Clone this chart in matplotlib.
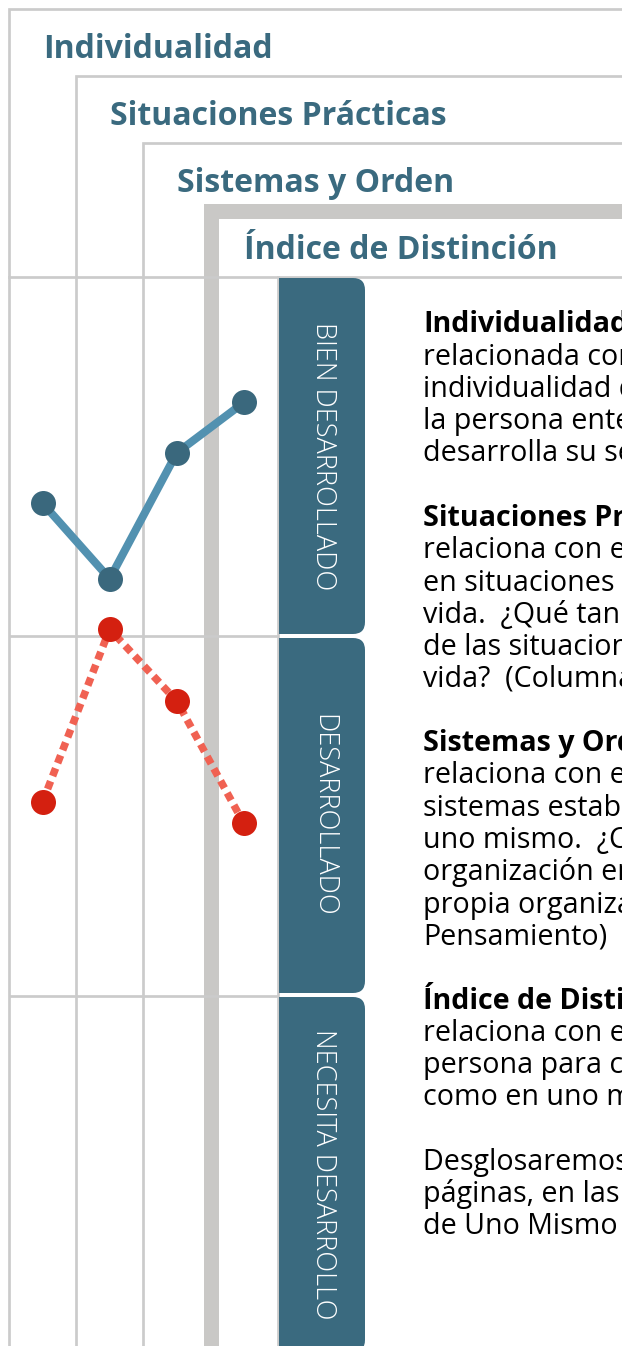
import matplotlib
matplotlib.use("Agg")
import matplotlib.pyplot as plt
from matplotlib.patches import FancyBboxPatch, Rectangle

# --- data ---
categories = ["Individualidad", "Situaciones Prácticas", "Sistemas y Orden", "Índice de Distinción"]
serie_azul = [23.7, 21.6, 25.1, 26.5]
serie_roja = [15.4, 20.2, 18.2, 14.8]
band_edges = [10, 20]
band_labels = ["BIEN DESARROLLADO", "DESARROLLADO", "NECESITA DESARROLLO"]

body = [
    ("Individualidad", True),
    ("relacionada con la capacidad de apreciar la", False),
    ("individualidad de cada persona, el valor de", False),
    ("la persona entera, y la forma en que cada uno", False),
    ("desarrolla su sentido de sí mismo. (Columna", False),
    ("", False),
    ("Situaciones Prácticas", True),
    ("relaciona con el juicio práctico de la persona", False),
    ("en situaciones prácticas y concretas de la", False),
    ("vida.  ¿Qué tan bien percibe la persona el valor", False),
    ("de las situaciones prácticas de la", False),
    ("vida?  (Columna de Pensamiento)", False),
    ("", False),
    ("Sistemas y Orden", True),
    ("relaciona con el juicio sobre las normas y", False),
    ("sistemas establecidos, tanto en el mundo como en", False),
    ("uno mismo.  ¿Cuánto valora la persona la", False),
    ("organización en el mundo y su", False),
    ("propia organización? (Columna de", False),
    ("Pensamiento)", False),
    ("", False),
    ("Índice de Distinción", True),
    ("relaciona con el grado de claridad de la", False),
    ("persona para captar valores, tanto en el mundo", False),
    ("como en uno mismo.", False),
    ("", False),
    ("Desglosaremos estas dimensiones en las siguientes", False),
    ("páginas, en las secciones del Mundo y", False),
    ("de Uno Mismo", False),
]

W, H = 622, 1346
TEAL = "#3a6a7f"
GREY = "#cbcbcb"
GREY_THICK = "#c9c8c6"
px = 72 / 100  # points per pixel

plt.rcParams["font.family"] = ["Open Sans", "DejaVu Sans"]
fig = plt.figure(figsize=(W / 100, H / 100), dpi=100)
bg = fig.add_axes([0, 0, 1, 1])
bg.set_xlim(0, W)
bg.set_ylim(H, 0)
bg.axis("off")

# nested frames with headings
lefts = [9, 76, 143, 210.5]
tops = [9, 76, 143, 210.5]
widths = [2.7, 2.7, 2.7, 15]
title_base = [58, 125, 192, 259]
for cat, L, T, lw, ty in zip(categories, lefts, tops, widths, title_base):
    col = GREY_THICK if lw > 5 else GREY
    bg.plot([L, L, W + 20], [H + 20, T, T], color=col, lw=lw * px,
            solid_joinstyle="miter", zorder=1)
    bg.text(L + 34, ty, cat, color=TEAL, fontsize=23.0, fontweight="bold",
            va="baseline", ha="left", zorder=3)
bg.plot([9, W + 20], [276.5, 276.5], color=GREY, lw=2.7 * px, zorder=1)
bg.plot([277.5, 277.5], [276.5, H + 20], color=GREY, lw=2.7 * px, zorder=1)

# tabs
tab_tops = [278, 638, 997]
tab_bots = [634, 993, 1352]
for lab, t0, t1 in zip(band_labels, tab_tops, tab_bots):
    bg.add_patch(FancyBboxPatch((279, t0), 86, t1 - t0,
                                boxstyle="round,pad=0,rounding_size=12",
                                fc=TEAL, ec="none", zorder=2))
    bg.add_patch(Rectangle((279, t0), 30, t1 - t0, fc=TEAL, ec="none", zorder=2))
    bg.text(323, (t0 + t1) / 2, lab, rotation=-90, color="white", fontsize=19.5,
            fontweight="light", ha="center", va="center", zorder=3)

# body text
y0, dy = 325, 32.2
for i, (line, bold) in enumerate(body):
    if line:
        bg.text(423, y0 + i * dy, line, fontsize=20.6,
                fontweight="bold" if bold else "normal", color="black",
                ha="left", va="center", zorder=3)

# chart area
ax = fig.add_axes([9 / W, 0, (277.5 - 9) / W, (H - 276.5) / H])
ax.patch.set_alpha(0)
ax.set_xlim(-0.5, 3.5)
ax.set_ylim(0.28, 30)
ax.axis("off")
for v in band_edges:
    ax.axhline(v, color=GREY, lw=2.7 * px, zorder=1)
x = range(len(categories))
ax.plot(x, serie_azul, color="#5291b0", lw=8 * px, zorder=4, clip_on=False,
        solid_capstyle="butt")
ax.plot(x, serie_azul, "o", color="#3a687d", ms=25 * px, mew=0, zorder=5, clip_on=False)
ax.plot(x, serie_roja, color="#f06152", lw=7.5 * px, zorder=4, clip_on=False,
        linestyle=(0, (1.1, 0.75)), dash_capstyle="butt")
ax.plot(x, serie_roja, "o", color="#d42010", ms=25 * px, mew=0, zorder=5, clip_on=False)

fig.savefig("out.png", dpi=100)
